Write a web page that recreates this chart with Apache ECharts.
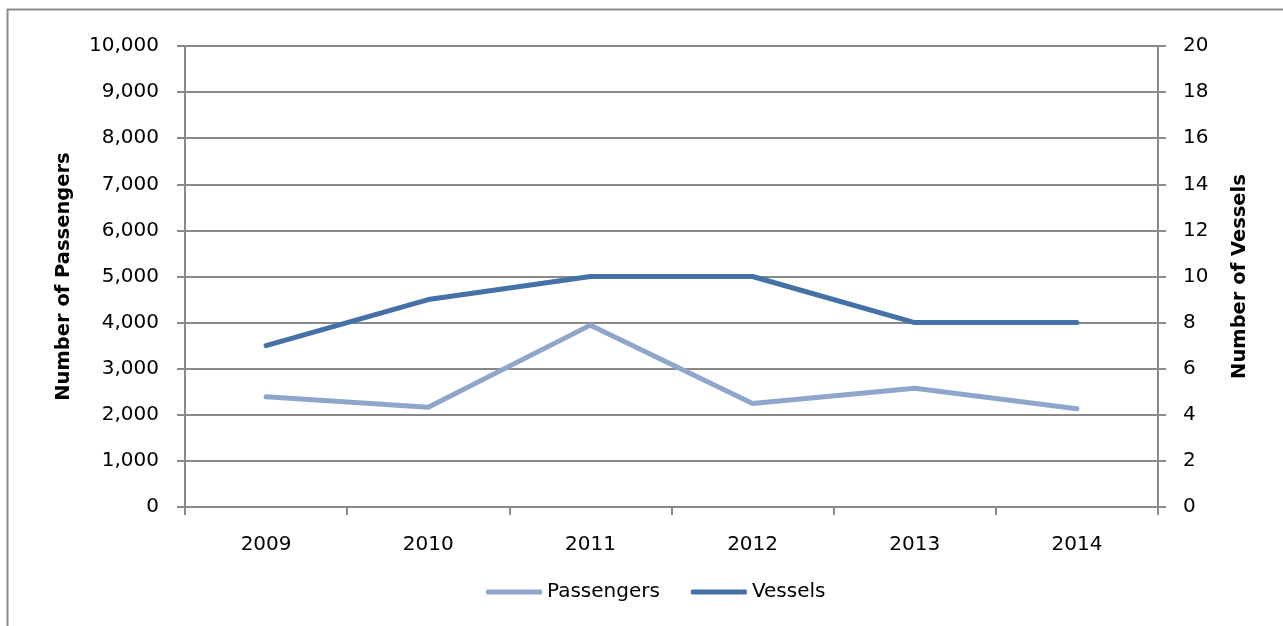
<!DOCTYPE html>
<html>
<head>
<meta charset="utf-8">
<script src="https://cdn.jsdelivr.net/npm/echarts@6/dist/echarts.min.js"></script>
<style>html,body{margin:0;padding:0;background:#fff}#c{width:1283px;height:626px}</style>
</head>
<body>
<div id="c"></div>
<script>
const years = ['2009','2010','2011','2012','2013','2014'];
const passengers = [2390, 2165, 3945, 2245, 2575, 2130];
const vessels = [7, 9, 10, 10, 8, 8];
const seriesNames = ['Passengers', 'Vessels'];
const axisNames = ['Number of Passengers', 'Number of Vessels'];

const gray = '#898989';
const font = 'DejaVu Sans';
const chart = echarts.init(document.getElementById('c'), null, {renderer: 'canvas'});
chart.setOption({
  animation: false,
  backgroundColor: '#fff',
  graphic: [{
    type: 'rect', left: 5, top: 7,
    shape: {width: 1300, height: 700},
    style: {fill: 'none', stroke: '#8c8c8c', lineWidth: 2},
    silent: true
  }],
  grid: {left: 185, right: 125, top: 46, bottom: 119},
  legend: {
    left: 481, top: 577,
    itemWidth: 56, itemHeight: 5, itemGap: 31,
    icon: 'roundRect',
    textStyle: {fontFamily: font, fontSize: 20, color: '#000'},
    data: seriesNames
  },
  xAxis: {
    type: 'category', data: years, boundaryGap: true,
    axisLine: {lineStyle: {color: gray, width: 2}},
    axisTick: {show: true, length: 8, lineStyle: {color: gray, width: 2}},
    axisLabel: {margin: 28, fontFamily: font, fontSize: 20, color: '#000'}
  },
  yAxis: [{
    type: 'value', min: 0, max: 10000, interval: 1000,
    name: axisNames[0], nameLocation: 'middle', nameGap: 111,
    nameTextStyle: {fontFamily: font, fontSize: 19.5, fontWeight: 'bold', color: '#000'},
    axisLine: {show: true, lineStyle: {color: gray, width: 2}},
    axisTick: {show: true, length: 8, lineStyle: {color: gray, width: 2}},
    axisLabel: {margin: 26, fontFamily: font, fontSize: 20, color: '#000',
      formatter: v => v.toLocaleString('en-US')},
    splitLine: {show: true, lineStyle: {color: gray, width: 2}}
  }, {
    type: 'value', min: 0, max: 20, interval: 2, position: 'right',
    name: axisNames[1], nameLocation: 'middle', nameGap: 72,
    nameTextStyle: {fontFamily: font, fontSize: 19.5, fontWeight: 'bold', color: '#000'},
    axisLine: {show: true, lineStyle: {color: gray, width: 2}},
    axisTick: {show: true, length: 8, lineStyle: {color: gray, width: 2}},
    axisLabel: {margin: 25, fontFamily: font, fontSize: 20, color: '#000'},
    splitLine: {show: false}
  }],
  series: [{
    name: seriesNames[0], type: 'line', data: passengers, yAxisIndex: 0,
    symbol: 'none', color: '#8EA6CD',
    lineStyle: {width: 5, color: '#8EA6CD', cap: 'round', join: 'round'}
  }, {
    name: seriesNames[1], type: 'line', data: vessels, yAxisIndex: 1,
    symbol: 'none', color: '#4472A8',
    lineStyle: {width: 5, color: '#4472A8', cap: 'round', join: 'round'}
  }]
});
</script>
</body>
</html>
